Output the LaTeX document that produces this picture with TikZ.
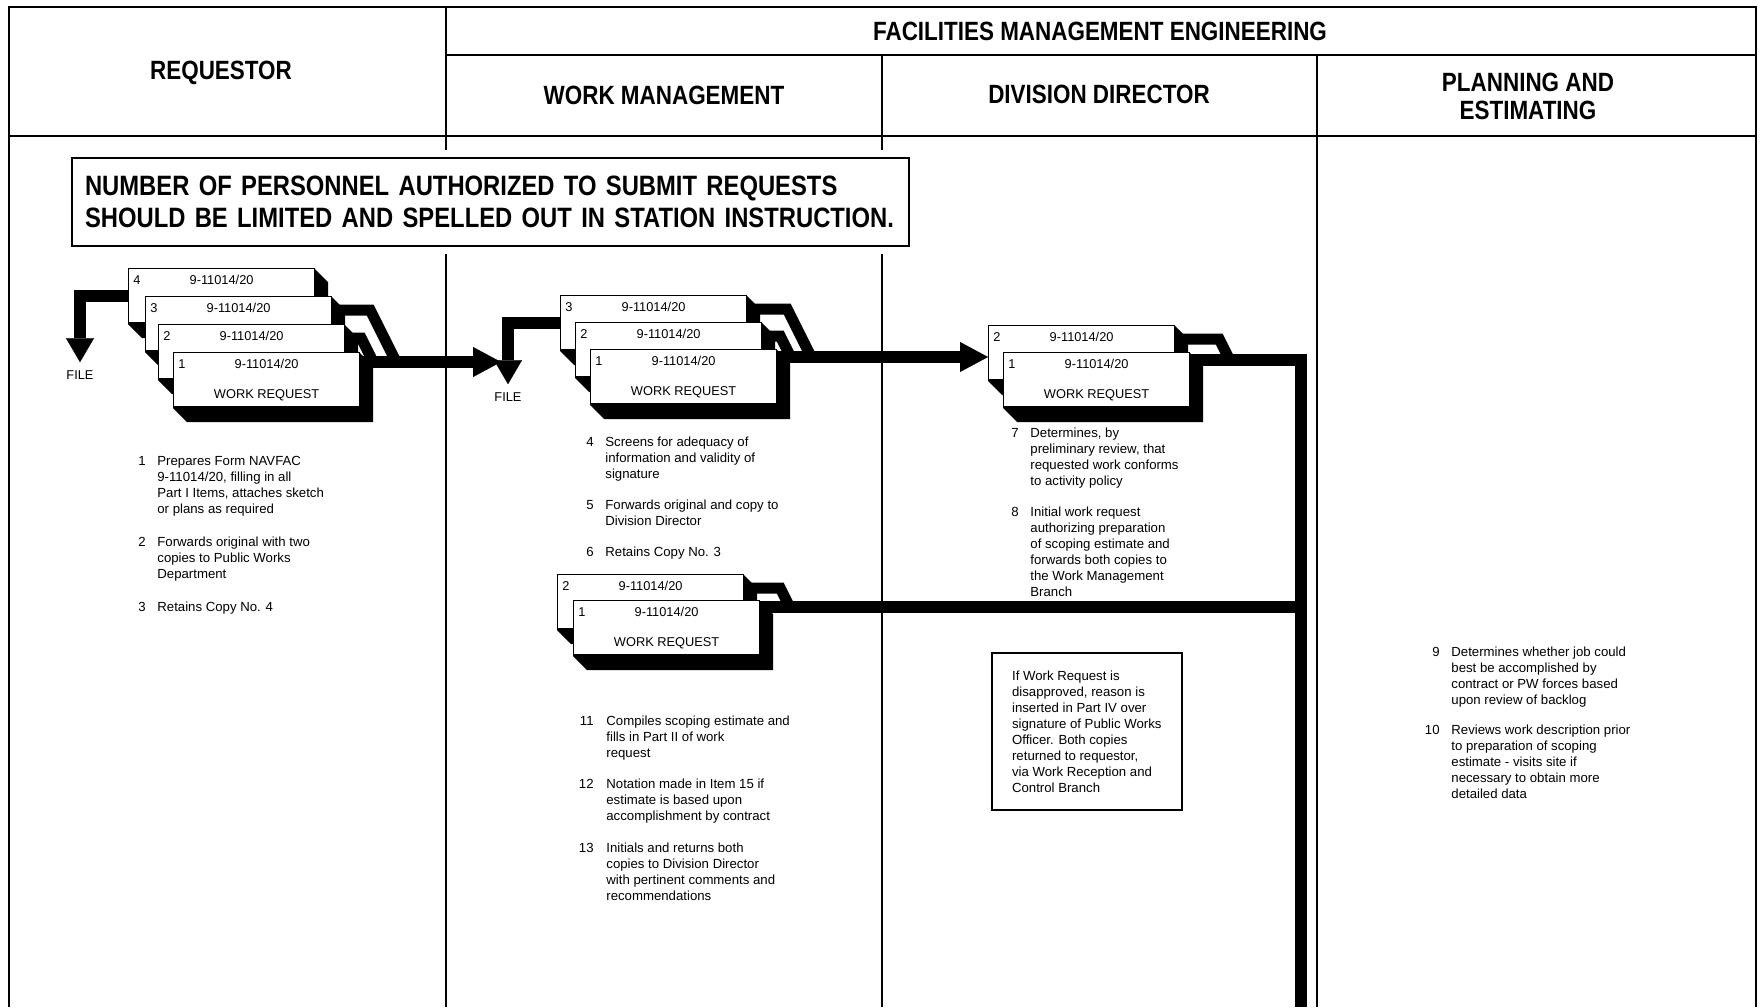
\documentclass[tikz,border=0pt]{standalone}
\usepackage{fontspec}
\setmainfont{Liberation Sans}
\newfontfamily\hdfont[FakeStretch=0.85]{Liberation Sans}
\usetikzlibrary{arrows.meta,backgrounds}

\tikzset{
  lane/.style={line width=1.2pt},
  hd/.style={font=\hdfont\bfseries\fontsize{13.2}{14}\selectfont, align=center, inner sep=0pt},
  notice/.style={draw, fill=white, line width=1pt, preaction={draw=white, line width=8pt},
    font=\hdfont\bfseries\fontsize{14}{16}\selectfont, align=left,
    text width=405.5pt, inner xsep=6.5pt, minimum height=44pt},
  item/.style={font=\fontsize{6.6}{8}\selectfont, align=left, anchor=north west, yshift=4.8pt, inner sep=0pt},
  itemno/.style={font=\fontsize{6.6}{8}\selectfont, anchor=base east, inner sep=0pt},
  ddnote/.style={draw, line width=0.8pt, font=\fontsize{6.6}{8}\selectfont, align=left,
    minimum width=95pt, minimum height=78.5pt},
  card/.style={draw, fill=white, line width=0.6pt, minimum width=93pt, minimum height=27pt,
    inner sep=0pt, anchor=north west},
  cardtxt/.style={font=\fontsize{6.4}{7}\selectfont, inner sep=0pt},
  band/.style={line width=6pt, line join=miter},
  tab/.style={line width=5.5pt, line join=miter},
  flow/.style={band, -{Triangle[length=14pt, width=15pt, line width=0.1pt]}},
  tofile/.style={band, -{Triangle[length=12pt, width=14pt, line width=0.1pt]}},
}

% one copy of the form: shadow, card, copy number, form number, title
\newcommand{\wrcard}[4]{%
  \fill (#2) -- ++(186,0) -- ++(14,14) -- ++(0,56) -- ++(-186,0) -- ++(-14,-14) -- cycle;
  \node[card] (#1) at (#2) {};
  \node[cardtxt] (#1n) at ([shift={(9,12)}]#1.north west) {#3};
  \node[cardtxt] (#1c) at ([shift={(0,12)}]#1.north) {9-11014/20};
  \node[cardtxt] (#1t) at ([shift={(0,43)}]#1.north) {#4};
}

\begin{document}
\begin{tikzpicture}[x=0.5pt, y=-0.5pt]
\useasboundingbox (0,0) rectangle (1762,1007);

% lanes
\draw[lane] (9,1007) -- (9,7) -- (1756,7) -- (1756,1007);
\draw[lane] (446,55) -- (1756,55);
\draw[lane] (9,136) -- (1756,136);
\draw[lane] (446,7) -- (446,1007);
\draw[lane] (882,55) -- (882,1007);
\draw[lane] (1317,55) -- (1317,1007);

\node[hd] (hReq) at (221,73) {REQUESTOR};
\node[hd] (hFme) at (1100,31) {FACILITIES MANAGEMENT ENGINEERING};
\node[hd] (hWm) at (664,95) {WORK MANAGEMENT};
\node[hd] (hDd) at (1099,94) {DIVISION DIRECTOR};
\node[hd] (hPe) at (1528,96) {PLANNING AND\\ESTIMATING};

\node[notice, anchor=north west] (note) at (71,157)
  {\mbox{NUMBER OF PERSONNEL AUTHORIZED TO SUBMIT REQUESTS}\\
   \mbox{SHOULD BE LIMITED AND SPELLED OUT IN STATION INSTRUCTION.}};

% form stacks
\foreach \n/\x/\y in {4/128/268, 3/145/296, 2/158/324}{
  \wrcard{A\n}{\x,\y}{\n}{}
}
\wrcard{A1}{173,352}{1}{WORK REQUEST}
\foreach \n/\x/\y in {3/560/295, 2/575/322}{
  \wrcard{B\n}{\x,\y}{\n}{}
}
\wrcard{B1}{590,349}{1}{WORK REQUEST}
\wrcard{C2}{988,325}{2}{}
\wrcard{C1}{1003,352}{1}{WORK REQUEST}
\wrcard{D2}{557,574}{2}{}
\wrcard{D1}{573,600}{1}{WORK REQUEST}

\node[cardtxt] (fileA) at (80,375) {FILE};
\node[cardtxt] (fileB) at (508,397) {FILE};

\coordinate (inB) at (501,362);
\coordinate (trunk) at (1301,1007);
\coordinate (bOut) at ([shift={(0,8)}]B1.north east);
\coordinate (cOut) at ([shift={(0,8)}]C1.north east);
\coordinate (dOut) at ([shift={(0,7)}]D1.north east);

\begin{scope}[on background layer]
\draw[tofile] (A4.west) -| ([yshift=4pt]fileA.north);
\draw[tofile] (B3.west) -| ([yshift=4pt]fileB.north);
\draw[tab] ([shift={(0,14)}]A3.north east) -- ++(38,0) -- ++(26,52);
\draw[tab] ([shift={(0,14)}]A2.north east) -- ++(16,0) -- ++(12,24);
\draw[flow] ([shift={(0,10)}]A1.north east) -- (inB);
\draw[tab] ([shift={(0,14)}]B3.north east) -- ++(40,0) -- ++(24,48);
\draw[tab] ([shift={(0,14)}]B2.north east) -- ++(18,0) -- ++(10.5,21);
\draw[flow] (bOut) -- (bOut -| C2.west);
\draw[tab] ([shift={(0,14)}]C2.north east) -- ++(44,0) -- ++(10.5,21);
\draw[band] (cOut) -| (trunk);
\draw[tab] ([shift={(0,14)}]D2.north east) -- ++(36,0) -- ++(9.5,19);
\draw[band] (dOut) -- (dOut -| trunk);
\end{scope}

% requestor
\node[itemno] (n1) at (146,465) {1};
\node[item] (t1) at (157,465) {Prepares Form NAVFAC\\9-11014/20, filling in all\\Part I Items, attaches sketch\\or plans as required};
\node[itemno] (n2) at (146,546) {2};
\node[item] (t2) at (157,546) {Forwards original with two\\copies to Public Works\\Department};
\node[itemno] (n3) at (146,611) {3};
\node[item] (t3) at (157,611) {Retains Copy No. 4};

% work management
\node[itemno] (n4) at (594,446) {4};
\node[item] (t4) at (605,446) {Screens for adequacy of\\information and validity of\\signature};
\node[itemno] (n5) at (594,509) {5};
\node[item] (t5) at (605,509) {Forwards original and copy to\\Division Director};
\node[itemno] (n6) at (594,556) {6};
\node[item] (t6) at (605,556) {Retains Copy No. 3};
\node[itemno] (n11) at (594,725) {11};
\node[item] (t11) at (606,725) {Compiles scoping estimate and\\fills in Part II of work\\request};
\node[itemno] (n12) at (594,788) {12};
\node[item] (t12) at (606,788) {Notation made in Item 15 if\\estimate is based upon\\accomplishment by contract};
\node[itemno] (n13) at (594,852) {13};
\node[item] (t13) at (606,852) {Initials and returns both\\copies to Division Director\\with pertinent comments and\\recommendations};

% division director
\node[itemno] (n7) at (1019,437) {7};
\node[item] (t7) at (1030,437) {Determines, by\\preliminary review, that\\requested work conforms\\to activity policy};
\node[itemno] (n8) at (1019,516) {8};
\node[item] (t8) at (1030,516) {Initial work request\\authorizing preparation\\of scoping estimate and\\forwards both copies to\\the Work Management\\Branch};
\node[ddnote, anchor=north west] (ddBox) at (991,652) {If Work Request is\\disapproved, reason is\\inserted in Part IV over\\signature of Public Works\\Officer. Both copies\\returned to requestor,\\via Work Reception and\\Control Branch};

% planning and estimating
\node[itemno] (n9) at (1440,656) {9};
\node[item] (t9) at (1451,656) {Determines whether job could\\best be accomplished by\\contract or PW forces based\\upon review of backlog};
\node[itemno] (n10) at (1440,734) {10};
\node[item] (t10) at (1451,734) {Reviews work description prior\\to preparation of scoping\\estimate - visits site if\\necessary to obtain more\\detailed data};

\end{tikzpicture}
\end{document}
